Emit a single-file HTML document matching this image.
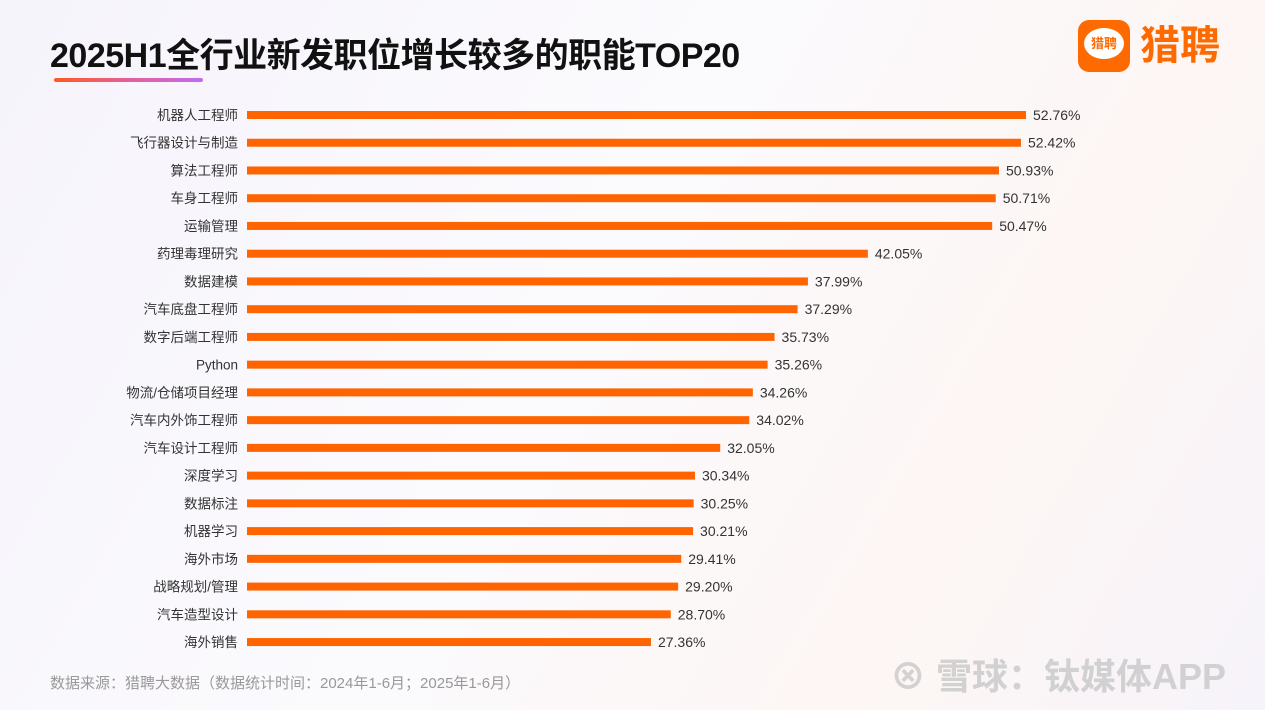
<!DOCTYPE html>
<html><head><meta charset="utf-8"><style>
body{margin:0;width:1265px;height:710px;overflow:hidden;font-family:"Liberation Sans","Noto Sans CJK SC",sans-serif;background:linear-gradient(120deg,#f6f4fb 0%,#fbfafd 45%,#fdf6f4 75%,#f6f3fa 100%);position:relative}
.t{position:absolute;left:50px;top:28px;font-size:34px;font-weight:bold;color:#111;white-space:nowrap;letter-spacing:-0.5px}
.ul{position:absolute;left:54px;top:78px;width:149px;height:4px;border-radius:2px;background:linear-gradient(90deg,#ff5a1f,#e3609a,#c06cf0)}
.src{position:absolute;left:50px;top:672px;font-size:15px;color:#999}
.wm{position:absolute;left:890px;top:648px;font-size:36px;color:rgba(200,200,200,0.8);font-weight:bold}
</style></head><body>
<div class="t">2025H1全行业新发职位增长较多的职能TOP20</div>
<div class="ul"></div>
<div style="position:absolute;left:1078px;top:20px;width:52px;height:52px;border-radius:11px;background:#ff6a00">
<div style="position:absolute;left:6px;top:8px;width:40px;height:31px;border-radius:50%;background:#fff;color:#ff6a00;font-size:13px;font-weight:bold;text-align:center;line-height:31px">猎聘</div></div>
<div style="position:absolute;left:1140px;top:20px;font-size:40px;font-weight:bold;color:#ff6a00;line-height:52px">猎聘</div>
<svg id="c" width="1265" height="710" style="position:absolute;left:0;top:0"></svg>
<div class="src">数据来源：猎聘大数据（数据统计时间：2024年1-6月；2025年1-6月）</div>
<div class="wm">⊗ 雪球：钛媒体APP</div>
<script>
const categories=["机器人工程师","飞行器设计与制造","算法工程师","车身工程师","运输管理","药理毒理研究","数据建模","汽车底盘工程师","数字后端工程师","Python","物流/仓储项目经理","汽车内外饰工程师","汽车设计工程师","深度学习","数据标注","机器学习","海外市场","战略规划/管理","汽车造型设计","海外销售"];
const values=[52.76,52.42,50.93,50.71,50.47,42.05,37.99,37.29,35.73,35.26,34.26,34.02,32.05,30.34,30.25,30.21,29.41,29.20,28.70,27.36];
const labels=values.map(v=>v.toFixed(2)+"%");
const svg=document.getElementById('c');const NS="http://www.w3.org/2000/svg";
const x0=247,k=14.765,y0=115,step=27.74,bh=8;
const xs=v=>x0+v*k, ys=i=>y0+i*step;
categories.forEach((c,i)=>{
 const y=ys(i);
 const t=document.createElementNS(NS,'text');
 
 
 t.setAttribute('x',238);t.setAttribute('y',y+5);t.setAttribute('text-anchor','end');t.setAttribute('font-size','13.5');t.setAttribute('fill','#333');t.textContent=c;svg.appendChild(t);
 const r=document.createElementNS(NS,'rect');
 
 
 r.setAttribute('x',x0);r.setAttribute('y',y-bh/2);r.setAttribute('width',xs(values[i])-x0);r.setAttribute('height',bh);r.setAttribute('fill','#ff6400');svg.appendChild(r);
 const v=document.createElementNS(NS,'text');
 
 
 v.setAttribute('x',xs(values[i])+7);v.setAttribute('y',y+5);v.setAttribute('font-size','14');v.setAttribute('fill','#333');v.textContent=labels[i];svg.appendChild(v);
});
</script>
</body></html>
